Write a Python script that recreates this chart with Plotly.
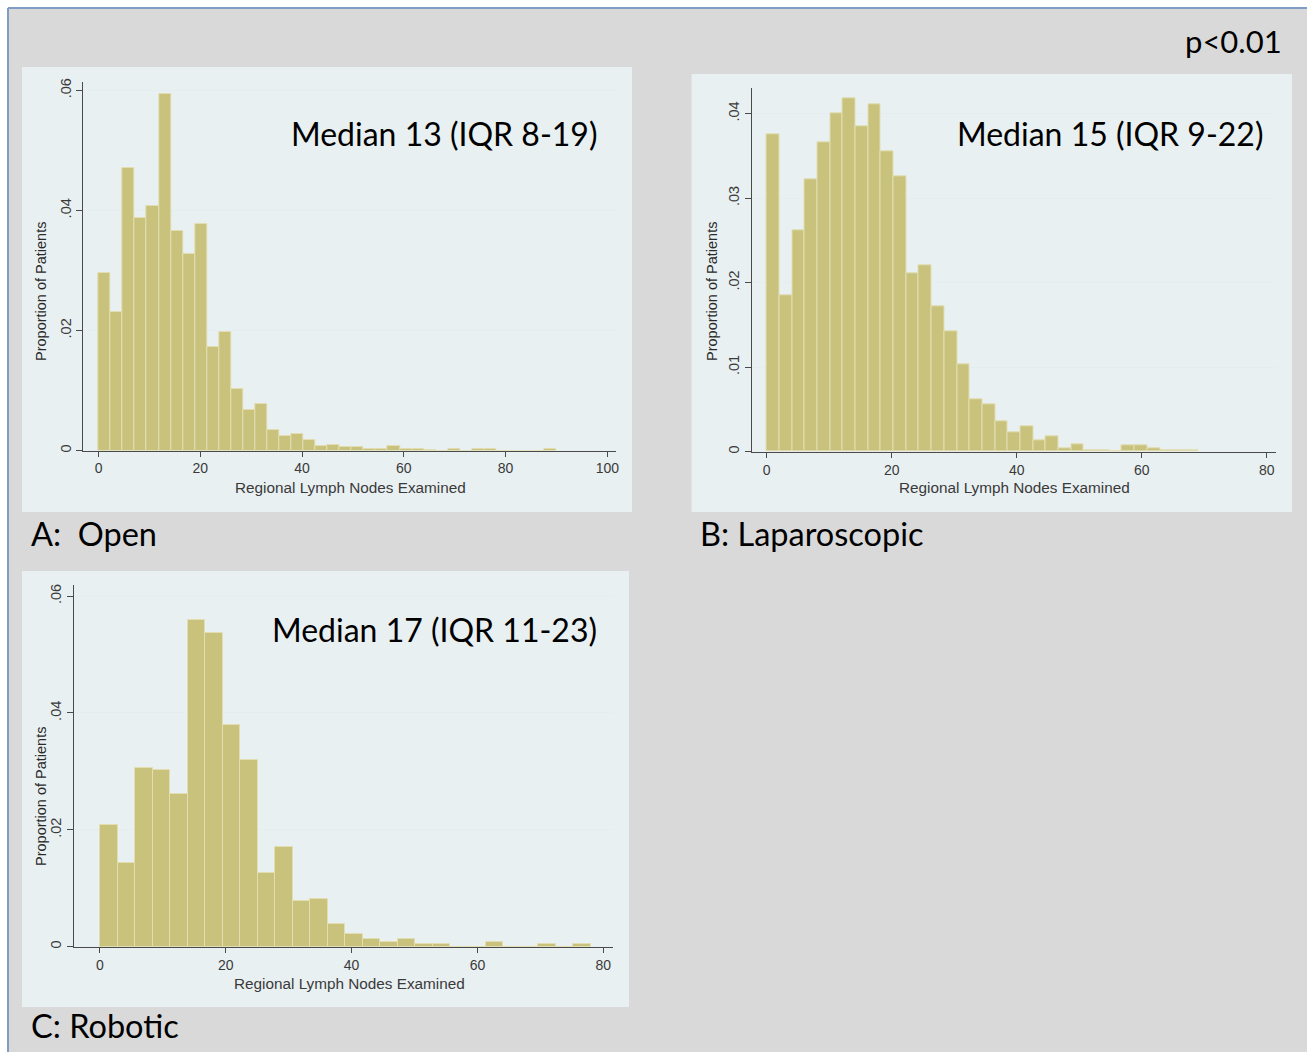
import plotly.graph_objects as go

W, H = 1307, 1052

# Histogram densities (proportion of patients per unit) for each approach
OPEN_MAX = 90.0
OPEN_DENSITY = [0.0296, 0.0231, 0.0471, 0.0388, 0.0408, 0.0594, 0.0365, 0.0327,
                0.0377, 0.0173, 0.0197, 0.0103, 0.0068, 0.0077, 0.0035, 0.0024,
                0.0027, 0.0017, 0.0007, 0.0010, 0.0006, 0.0006, 0.0002, 0.0002,
                0.0007, 0.0002, 0.0002, 0.0001, 0.0000, 0.0002, 0.0000, 0.0002,
                0.0002, 0.0000, 0.0000, 0.0000, 0.0000, 0.0002]

LAP_MAX = 69.0
LAP_DENSITY = [0.0376, 0.0185, 0.0262, 0.0322, 0.0366, 0.0401, 0.0418, 0.0385,
               0.0411, 0.0356, 0.0326, 0.0211, 0.0220, 0.0172, 0.0143, 0.0103,
               0.0062, 0.0056, 0.0036, 0.0023, 0.0030, 0.0014, 0.0018, 0.0004,
               0.0009, 0.0002, 0.0002, 0.0000, 0.0007, 0.0007, 0.0004, 0.0002,
               0.0002, 0.0002]

ROBOT_MAX = 78.0
ROBOT_DENSITY = [0.0209, 0.0144, 0.0305, 0.0302, 0.0261, 0.0559, 0.0537, 0.0379,
                 0.0319, 0.0126, 0.0170, 0.0078, 0.0082, 0.0039, 0.0022, 0.00125,
                 0.00085, 0.00125, 0.0004, 0.0004, 0.0000, 0.0000, 0.00085, 0.0000,
                 0.0000, 0.0004, 0.0000, 0.0004]

OPEN_XTICKS = [0, 20, 40, 60, 80, 100]
SMALL_XTICKS = [0, 20, 40, 60, 80]
YTICKS_06 = [0, 0.02, 0.04, 0.06]
YTICKS_06_TEXT = ["0", ".02", ".04", ".06"]
YTICKS_04 = [0, 0.01, 0.02, 0.03, 0.04]
YTICKS_04_TEXT = ["0", ".01", ".02", ".03", ".04"]

MEDIAN_TEXT = ["Median 13 (IQR 8-19)", "Median 15 (IQR 9-22)", "Median 17 (IQR 11-23)"]
PANEL_TEXT = ["A:  Open", "B: Laparoscopic", "C: Robotic"]
P_TEXT = "p<0.01"

X_TITLE = "Regional Lymph Nodes Examined"
Y_TITLE = "Proportion of Patients"

BAR_FILL = "rgb(201,194,124)"
BAR_EDGE = "rgb(226,222,178)"
PANEL_BG = "#e9f0f2"
PAGE_BG = "#d9d9d9"
GRID = "#e4edef"
AXIS = "#4a4a4a"
SANS = "Liberation Sans, Arial, sans-serif"
LABEL_FAMILY = "Lato, Open Sans, sans-serif"


def px_x(v):
    return v / W


def px_y(v):
    return 1 - v / H


def bins(max_val, density):
    n = len(density)
    w = max_val / n
    return [(i + 0.5) * w for i in range(n)], w


fig = go.Figure()

panels = [
    # (density, max, xaxis, yaxis, plot box px (x0, x1, ytop, ybottom), x range, y range,
    #  x ticks, y ticks, y tick text, y-title centre px, x-title centre px)
    (OPEN_DENSITY, OPEN_MAX, "x", "y", (83.3, 615.5, 82, 450.6), [-3.0, 101.6], [0, 0.0614],
     OPEN_XTICKS, YTICKS_06, YTICKS_06_TEXT, (41, 292), (350.5, 487)),
    (LAP_DENSITY, LAP_MAX, "x2", "y2", (751.5, 1275.6, 88.3, 451.7), [-2.43, 81.4], [0, 0.0430],
     SMALL_XTICKS, YTICKS_04, YTICKS_04_TEXT, (712, 292), (1014.5, 487)),
    (ROBOT_DENSITY, ROBOT_MAX, "x3", "y3", (74, 613.3, 585, 946.7), [-4.13, 81.6], [0, 0.0619],
     SMALL_XTICKS, YTICKS_06, YTICKS_06_TEXT, (41, 797), (349, 983)),
]

tick_font = dict(family=SANS, size=14, color="#3a3a3a")
annotations = []

for i, (dens, mx, xa, ya, box, xr, yr, xt, yt, ytt, ytitle_pos, xtitle_pos) in enumerate(panels):
    centers, w = bins(mx, dens)
    fig.add_trace(go.Bar(
        x=centers, y=dens, width=w, xaxis=xa, yaxis=ya,
        marker=dict(color=BAR_FILL, line=dict(color=BAR_EDGE, width=1)),
        hoverinfo="skip", showlegend=False,
    ))
    x0, x1, yt0, yb0 = box
    sfx = "" if i == 0 else str(i + 1)
    fig.layout["xaxis" + sfx] = dict(
        domain=[px_x(x0), px_x(x1)], range=xr, anchor=ya,
        tickvals=xt, ticks="outside", ticklen=5, tickcolor=AXIS, tickwidth=1,
        showline=True, linecolor=AXIS, linewidth=1, showgrid=False, zeroline=False,
        tickfont=tick_font, automargin=False,
    )
    fig.layout["yaxis" + sfx] = dict(
        domain=[px_y(yb0), px_y(yt0)], range=yr, anchor=xa,
        tickvals=yt, ticktext=ytt, tickangle=-90,
        ticks="outside", ticklen=6, tickcolor=AXIS, tickwidth=1,
        showline=True, linecolor=AXIS, linewidth=1,
        showgrid=True, gridcolor=GRID, gridwidth=1.2, zeroline=False,
        tickfont=dict(family=SANS, size=14.5, color="#3a3a3a"), automargin=False,
    )
    # axis titles
    annotations.append(dict(text=Y_TITLE, xref="paper", yref="paper",
                            x=px_x(ytitle_pos[0]), y=px_y(ytitle_pos[1]),
                            xanchor="center", yanchor="middle", textangle=-90, showarrow=False,
                            font=dict(family=SANS, size=14.5, color="#2a2a2a")))
    annotations.append(dict(text=X_TITLE, xref="paper", yref="paper",
                            x=px_x(xtitle_pos[0]), y=px_y(xtitle_pos[1]),
                            xanchor="center", yanchor="middle", showarrow=False,
                            font=dict(family=SANS, size=15.3, color="#3a3a3a")))

shapes = [
    # page background with the blue frame on the top and left
    dict(type="rect", xref="paper", yref="paper", x0=px_x(8), x1=1.0, y0=0, y1=px_y(8),
         fillcolor=PAGE_BG, line=dict(width=0), layer="below"),
    dict(type="line", xref="paper", yref="paper", x0=px_x(8), x1=1.0, y0=px_y(8), y1=px_y(8),
         line=dict(color="#7f9dc4", width=2), layer="below"),
    dict(type="line", xref="paper", yref="paper", x0=px_x(8), x1=px_x(8), y0=0, y1=px_y(8),
         line=dict(color="#7f9dc4", width=2), layer="below"),
]
for (x0, x1, y0, y1) in [(22, 632, 67, 512), (691.5, 1292, 74, 512), (22, 629, 571, 1007)]:
    shapes.append(dict(type="rect", xref="paper", yref="paper",
                       x0=px_x(x0), x1=px_x(x1), y0=px_y(y1), y1=px_y(y0),
                       fillcolor=PANEL_BG, line=dict(width=0), layer="below"))

label_font = dict(family=LABEL_FAMILY, size=32.5, color="#000000")
for (txt, xr_px, yc_px) in [(MEDIAN_TEXT[0], 599, 133), (MEDIAN_TEXT[1], 1265, 133),
                            (MEDIAN_TEXT[2], 599, 629)]:
    annotations.append(dict(text=txt, xref="paper", yref="paper", x=px_x(xr_px), y=px_y(yc_px),
                            xanchor="right", yanchor="middle", showarrow=False,
                            font=dict(family=LABEL_FAMILY, size=32, color="#000000")))
annotations.append(dict(text=P_TEXT, xref="paper", yref="paper", x=px_x(1284), y=px_y(41),
                        xanchor="right", yanchor="middle", showarrow=False,
                        font=dict(family=LABEL_FAMILY, size=31, color="#000")))
for (txt, xl_px, yc_px) in [(PANEL_TEXT[0], 29, 533), (PANEL_TEXT[1], 698, 533),
                            (PANEL_TEXT[2], 29, 1025)]:
    annotations.append(dict(text=txt, xref="paper", yref="paper", x=px_x(xl_px), y=px_y(yc_px),
                            xanchor="left", yanchor="middle", showarrow=False, font=label_font))

fig.update_layout(
    width=W, height=H, margin=dict(l=0, r=0, t=0, b=0),
    paper_bgcolor="white", plot_bgcolor="white",
    bargap=0, shapes=shapes, annotations=annotations,
)

fig.write_html("out.html")
